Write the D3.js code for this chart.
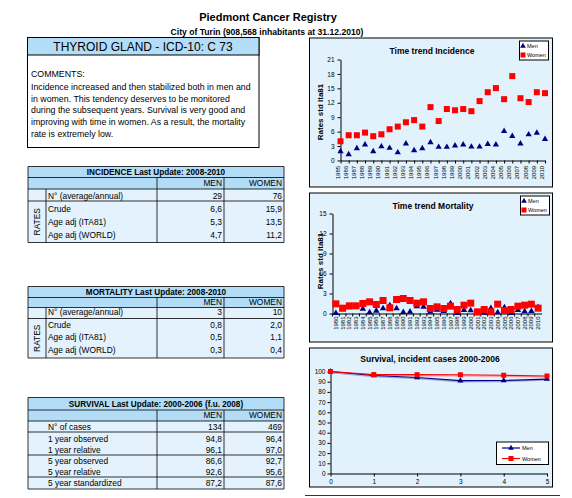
<!DOCTYPE html>
<html>
<head>
<meta charset="utf-8">
<script src="https://cdn.jsdelivr.net/npm/d3@7"></script>
<style>
body{margin:0;background:#fff;}
svg{display:block;font-family:"Liberation Sans",Arial,sans-serif;}
</style>
</head>
<body>
<svg id="c" width="572" height="498"></svg>
<script>
// ---------- DATA ----------
const incYears = [1985,1986,1987,1988,1989,1990,1991,1992,1993,1994,1995,1996,1997,1998,1999,2000,2001,2002,2003,2004,2005,2006,2007,2008,2009,2010];
const incMen   = [1.9,1.25,2.5,3.3,1.9,2.9,2.6,1.65,3.5,2.1,2.5,3.75,2.8,2.8,3.1,3.3,2.85,2.85,3.4,3.3,6.1,5.05,3.5,5.4,5.75,4.45];
const incWomen = [4.0,5.25,5.25,5.8,5.05,5.45,6.5,7.05,7.95,8.4,7.05,11.1,8.2,10.7,10.45,10.7,10.25,12.35,14.2,15.05,12.75,17.55,12.95,12.15,14.2,14.0];
const incTicks = [0,3,6,9,12,15,18,21];

const mortYears = [1980,1981,1982,1983,1984,1985,1986,1987,1988,1989,1990,1991,1992,1993,1994,1995,1996,1997,1998,1999,2000,2001,2002,2003,2004,2005,2006,2007,2008,2009,2010];
const mortMen   = [0.05,0.6,0.9,0.95,0.7,0.15,0.4,0.75,1.2,0.75,0.2,0.25,1.05,1.0,0.25,0.55,0.35,1.5,0.05,0.5,0.45,0.0,0.1,0.8,0.15,0.9,0.05,0.5,0.3,0.35,0.95];
const mortWomen = [1.45,0.8,1.15,1.15,1.5,1.75,1.35,1.95,0.85,2.1,2.25,1.95,1.55,1.75,0.75,1.0,0.75,1.1,0.6,1.25,1.55,0.25,0.6,0.25,1.4,0.45,0.6,1.1,1.25,1.4,0.8];
const mortTicks = [0,3,6,9,12,15];

const survYears = [0,1,2,3,4,5];
const survMen   = [100,96.1,94.1,91.0,91.2,92.6];
const survWomen = [100,97.0,96.9,96.8,96.3,95.6];
const survTicks = [0,10,20,30,40,50,60,70,80,90,100];

const comments = [
  "COMMENTS:",
  "Incidence increased and then stabilized both in men and",
  "in women. This tendency deserves to be monitored",
  "during the subsequent years. Survival is very good and",
  "improving with time in women. As a result, the mortality",
  "rate is extremely low."
];

const rateLabels = ["N° (average/annual)","Crude","Age adj (ITA81)","Age adj (WORLD)"];
const incMenVals = ["29","6,6","5,3","4,7"];
const incWomenVals = ["76","15,9","13,5","11,2"];
const mortMenVals = ["3","0,8","0,5","0,3"];
const mortWomenVals = ["10","2,0","1,1","0,4"];
const survLabels = ["N° of cases","1 year observed","1 year relative","5 year observed","5 year relative","5 year standardized"];
const survMenVals = ["134","94,8","96,1","86,6","92,6","87,2"];
const survWomenVals = ["469","96,4","97,0","92,7","95,6","87,6"];

// ---------- STYLE ----------
const NAVY = "#000080", RED = "#ff0000";
const HEAD = "#b3ddf7", ROW = "#e3f2fc", CHARTBG = "#e1f2fd";

const svg = d3.select("#c");

// titles
svg.append("text").attr("x",268).attr("y",21).attr("text-anchor","middle")
  .attr("font-size",11).attr("font-weight","bold").text("Piedmont Cancer Registry");
svg.append("text").attr("x",267).attr("y",35).attr("text-anchor","middle")
  .attr("font-size",8.6).attr("font-weight","bold").text("City of Turin (908,568 inhabitants at 31.12.2010)");

// left header + comments
svg.append("rect").attr("x",27.5).attr("y",37.5).attr("width",231.5).attr("height",110)
  .attr("fill","#fff").attr("stroke","#000");
svg.append("rect").attr("x",27.5).attr("y",37.5).attr("width",231.5).attr("height",17.5)
  .attr("fill",HEAD).attr("stroke","#000");
svg.append("text").attr("x",143).attr("y",51).attr("text-anchor","middle")
  .attr("font-size",12).text("THYROID GLAND - ICD-10: C 73");
const commentY = [76.5,90,101.8,113.4,125,136.6];
svg.append("g").selectAll("text").data(comments).join("text")
  .attr("x",31).attr("y",(d,i)=>commentY[i]).attr("font-size",8.8).text(d=>d);

// ---------- TABLES ----------
const X0=28, X1=46, X2=157, X3=224, X4=284;
function hline(y,xa=X0,xb=X4){svg.append("line").attr("x1",xa).attr("x2",xb).attr("y1",y).attr("y2",y).attr("stroke","#000").attr("stroke-width",0.8);}
function vline(x,ya,yb){svg.append("line").attr("x1",x).attr("x2",x).attr("y1",ya).attr("y2",yb).attr("stroke","#000").attr("stroke-width",0.8);}
function txt(x,y,s,anchor="start",bold=false,size=8.4){
  return svg.append("text").attr("x",x).attr("y",y).attr("dy","0.35em").attr("text-anchor",anchor)
    .attr("font-size",size).attr("font-weight",bold?"bold":"normal").text(s);
}

function rateTable(top, title, b, menVals, womenVals, textY){
  svg.append("rect").attr("x",X0).attr("y",top).attr("width",X4-X0).attr("height",b[1]-top).attr("fill",HEAD);
  svg.append("rect").attr("x",X0).attr("y",b[1]).attr("width",X4-X0).attr("height",b[3]-b[1]).attr("fill",ROW);
  hline(top); hline(b[0]); hline(b[1]); hline(b[2]); hline(b[3]);
  vline(X0,top,b[3]); vline(X4,top,b[3]);
  vline(X2,b[0],b[3]); vline(X3,b[0],b[3]);
  vline(X1,b[1],b[3]);
  txt((X0+X4)/2,(top+b[0])/2,title,"middle",true,8.2);
  txt(X3-2,(b[0]+b[1])/2,"MEN","end");
  txt(X4-2,(b[0]+b[1])/2,"WOMEN","end");
  rateLabels.forEach((l,i)=>{
    txt(X1+2,textY[i],l);
    txt(X3-2,textY[i],menVals[i],"end");
    txt(X4-2,textY[i],womenVals[i],"end");
  });
  const cy=(b[2]+b[3])/2;
  svg.append("text").attr("transform",`translate(${(X0+X1)/2+3},${cy}) rotate(-90)`)
    .attr("text-anchor","middle").attr("font-size",8.4).text("RATES");
}
rateTable(166.5,"INCIDENCE Last Update: 2008-2010",[177.5,189,201,242.5],incMenVals,incWomenVals,[196.5,209.5,222,235]);
rateTable(286.5,"MORTALITY Last Update: 2008-2010",[297.5,307.5,318.5,358],mortMenVals,mortWomenVals,[312.5,325,337.5,350.5]);

// survival table
(function(){
  const top=397.5, b=[410,421,432,455,477,489];
  svg.append("rect").attr("x",X0).attr("y",top).attr("width",X4-X0).attr("height",b[1]-top).attr("fill",HEAD);
  svg.append("rect").attr("x",X0).attr("y",b[1]).attr("width",X4-X0).attr("height",b[5]-b[1]).attr("fill",ROW);
  hline(top); b.forEach(y=>hline(y));
  vline(X0,top,b[5]); vline(X4,top,b[5]);
  vline(X2,b[0],b[5]); vline(X3,b[0],b[5]);
  txt((X0+X4)/2,(top+b[0])/2,"SURVIVAL Last Update: 2000-2006 (f.u. 2008)","middle",true,8.2);
  txt(X3-2,(b[0]+b[1])/2,"MEN","end");
  txt(X4-2,(b[0]+b[1])/2,"WOMEN","end");
  const ys=[426.7,439.3,450.3,460.8,472,483.3];
  survLabels.forEach((l,i)=>{
    txt(48,ys[i],l);
    txt(X3-2,ys[i],survMenVals[i],"end");
    txt(X4-2,ys[i],survWomenVals[i],"end");
  });
})();

// ---------- CHARTS ----------
function chartBox(x0,y0,x1,y1){
  svg.append("rect").attr("x",x0+0.5).attr("y",y0+0.5).attr("width",x1-x0).attr("height",y1-y0)
    .attr("fill",CHARTBG).attr("stroke","#000");
}
function chartTitle(x,y,s){
  svg.append("text").attr("x",x).attr("y",y).attr("text-anchor","middle").attr("font-size",8.5)
    .attr("font-weight","bold").text(s);
}
function legendBox(x,y){
  const g=svg.append("g").attr("transform",`translate(${x},${y})`);
  g.append("rect").attr("x",0.5).attr("y",0.5).attr("width",29).attr("height",19).attr("fill","#fff").attr("stroke","#000");
  g.append("path").attr("d",d3.symbol(d3.symbolTriangle,14)()).attr("transform","translate(4,5.5)").attr("fill",NAVY);
  g.append("rect").attr("x",1.5).attr("y",12).attr("width",5).attr("height",5).attr("fill",RED);
  g.append("text").attr("x",8).attr("y",7.5).attr("font-size",5.5).text("Men");
  g.append("text").attr("x",8).attr("y",16.5).attr("font-size",5.5).text("Women");
}
function yLabel(x,y){
  svg.append("text").attr("transform",`translate(${x},${y}) rotate(-90)`).attr("text-anchor","middle")
    .attr("font-size",8).attr("font-weight","bold").text("Rates std Ita81");
}
function styleAxis(g){
  g.selectAll("path,line").attr("stroke","#000");
  g.selectAll("text").attr("font-family","Liberation Sans, Arial, sans-serif").attr("fill","#000");
}

// Incidence chart
chartBox(309,37.5,552,186.5);
chartTitle(432,53.7,"Time trend Incidence");
legendBox(519,40.5);
yLabel(323,112);
{
  const x=d3.scalePoint().domain(incYears).range([340.5,545]).padding(0);
  const y=d3.scaleLinear().domain([0,21]).range([160.5,59.5]);
  const ga=svg.append("g").attr("transform","translate(340.5,0)")
    .call(d3.axisLeft(y).tickValues(incTicks).tickSize(3).tickSizeOuter(0).tickPadding(3));
  ga.selectAll("text").attr("font-size",6.5);
  styleAxis(ga);
  const gx=svg.append("g").attr("transform","translate(0,160.5)")
    .call(d3.axisBottom(x).tickSize(3).tickSizeOuter(0).tickPadding(2));
  gx.selectAll("text").attr("font-size",6).attr("text-anchor","end")
    .attr("transform","rotate(-90)").attr("dx","-0.4em").attr("dy","-0.25em").attr("y",0).attr("x",-3);
  styleAxis(gx);
  svg.append("g").selectAll("path").data(incMen).join("path")
    .attr("d",d3.symbol(d3.symbolTriangle,17)())
    .attr("transform",(d,i)=>`translate(${x(incYears[i])},${y(d)})`).attr("fill",NAVY);
  svg.append("g").selectAll("rect").data(incWomen).join("rect")
    .attr("x",(d,i)=>x(incYears[i])-3).attr("y",d=>y(d)-3).attr("width",6).attr("height",6).attr("fill",RED);
}

// Mortality chart
chartBox(309,192.5,552,341.5);
chartTitle(433,209,"Time trend Mortality");
legendBox(520,195.5);
yLabel(323,261);
{
  const x=d3.scaleBand().domain(mortYears).range([332.5,541.5]).padding(0);
  const y=d3.scaleLinear().domain([0,15]).range([313.5,213.5]);
  const ga=svg.append("g").attr("transform","translate(332.5,0)")
    .call(d3.axisLeft(y).tickValues(mortTicks).tickSize(3).tickSizeOuter(0).tickPadding(3));
  ga.selectAll("text").attr("font-size",6.5);
  styleAxis(ga);
  const gx=svg.append("g").attr("transform","translate(0,313.5)")
    .call(d3.axisBottom(x).tickSize(0).tickSizeOuter(0).tickPadding(2));
  gx.selectAll("text").attr("font-size",6).attr("text-anchor","end")
    .attr("transform","rotate(-90)").attr("dx","0").attr("dy","0.35em").attr("y",0).attr("x",-3);
  styleAxis(gx);
  gx.selectAll(".tick").append("line").attr("x1",-x.bandwidth()/2).attr("x2",-x.bandwidth()/2)
    .attr("y1",0).attr("y2",3).attr("stroke","#000");
  const cx=d=>x(d)+x.bandwidth()/2;
  svg.append("g").selectAll("path").data(mortMen).join("path")
    .attr("d",d3.symbol(d3.symbolTriangle,18)())
    .attr("transform",(d,i)=>`translate(${cx(mortYears[i])},${y(d)})`).attr("fill",NAVY);
  svg.append("g").selectAll("rect").data(mortWomen).join("rect")
    .attr("x",(d,i)=>cx(mortYears[i])-3.5).attr("y",d=>y(d)-3.5).attr("width",7).attr("height",7).attr("fill",RED);
}

// Survival chart
chartBox(309,347.5,552,486.5);
chartTitle(430,362,"Survival, incident cases 2000-2006");
{
  const x=d3.scaleLinear().domain([0,5]).range([330.5,547]);
  const y=d3.scaleLinear().domain([0,100]).range([473.5,371.5]);
  const ga=svg.append("g").attr("transform","translate(330.5,0)")
    .call(d3.axisLeft(y).tickValues(survTicks).tickSize(3).tickSizeOuter(0).tickPadding(2));
  ga.selectAll("text").attr("font-size",6.5);
  styleAxis(ga);
  const gx=svg.append("g").attr("transform","translate(0,473.5)")
    .call(d3.axisBottom(x).tickValues(survYears).tickFormat(d3.format("d")).tickSize(3).tickSizeOuter(0).tickPadding(3));
  gx.selectAll("text").attr("font-size",6.5);
  styleAxis(gx);
  const line=d3.line().x((d,i)=>x(survYears[i])).y(d=>y(d));
  svg.append("path").datum(survWomen).attr("d",line).attr("transform","translate(0,1)").attr("fill","none").attr("stroke","#f4a0a8").attr("stroke-width",1.5);
  svg.append("path").datum(survMen).attr("d",line).attr("transform","translate(0,1)").attr("fill","none").attr("stroke","#a0a8d8").attr("stroke-width",1.5);
  svg.append("path").datum(survMen).attr("d",line).attr("fill","none").attr("stroke",NAVY).attr("stroke-width",1.2);
  svg.append("path").datum(survWomen).attr("d",line).attr("fill","none").attr("stroke",RED).attr("stroke-width",1.2);
  svg.append("g").selectAll("path").data(survMen).join("path")
    .attr("d",d3.symbol(d3.symbolTriangle,16)())
    .attr("transform",(d,i)=>`translate(${x(survYears[i])},${y(d)})`).attr("fill",NAVY);
  svg.append("g").selectAll("rect").data(survWomen).join("rect")
    .attr("x",(d,i)=>x(survYears[i])-2.5).attr("y",d=>y(d)-2.5).attr("width",5).attr("height",5).attr("fill",RED);
  // legend
  const g=svg.append("g").attr("transform","translate(496,441.5)");
  g.append("rect").attr("x",0.5).attr("y",0.5).attr("width",52).attr("height",22.5).attr("fill","#fff").attr("stroke","#000");
  g.append("line").attr("x1",6).attr("x2",24).attr("y1",6.5).attr("y2",6.5).attr("stroke",NAVY).attr("stroke-width",1.2);
  g.append("path").attr("d",d3.symbol(d3.symbolTriangle,14)()).attr("transform","translate(15,6.5)").attr("fill",NAVY);
  g.append("line").attr("x1",6).attr("x2",24).attr("y1",17).attr("y2",17).attr("stroke",RED).attr("stroke-width",1.2);
  g.append("rect").attr("x",12.5).attr("y",14.5).attr("width",5).attr("height",5).attr("fill",RED);
  g.append("text").attr("x",26).attr("y",8.5).attr("font-size",5.5).text("Men");
  g.append("text").attr("x",26).attr("y",19).attr("font-size",5.5).text("Women");
}
svg.append("line").attr("x1",305).attr("x2",560).attr("y1",495.5).attr("y2",495.5).attr("stroke","#000").attr("stroke-width",0.8);
</script>
</body>
</html>
